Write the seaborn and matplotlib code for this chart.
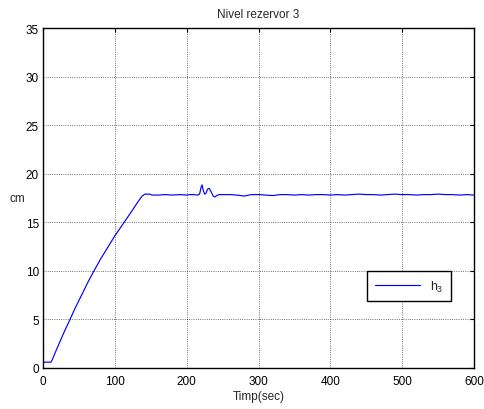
import numpy as np
import pandas as pd
import matplotlib
matplotlib.use("Agg")
import matplotlib.pyplot as plt
import seaborn as sns

# ---- data ----
time_s = [0, 11, 12, 20, 30, 37, 45, 55, 63, 71, 80, 90, 100, 113, 125, 133, 138,
          142, 148, 152, 160, 170, 180, 190, 200, 205, 210, 215, 218, 220, 221.5,
          223, 225, 227, 229, 231, 233, 235, 237, 239, 242, 245, 250, 260, 270,
          280, 290, 300, 310, 320, 330, 340, 350, 360, 370, 380, 390, 400, 410,
          420, 430, 440, 450, 460, 470, 480, 490, 500, 510, 520, 530, 540, 550,
          560, 570, 580, 590, 600]
h3_cm = [0.6, 0.6, 0.7, 2.1, 3.8, 4.9, 6.2, 7.7, 8.9, 10.0, 11.2, 12.4, 13.6, 15.0,
         16.3, 17.2, 17.7, 17.9, 17.9, 17.8, 17.8, 17.85, 17.8, 17.85, 17.8, 17.85,
         17.85, 17.8, 17.9, 18.6, 18.85, 18.3, 17.9, 18.0, 18.4, 18.5, 18.3, 18.0,
         17.7, 17.6, 17.75, 17.85, 17.85, 17.85, 17.8, 17.7, 17.85, 17.85, 17.8,
         17.75, 17.85, 17.85, 17.8, 17.85, 17.8, 17.85, 17.85, 17.8, 17.85, 17.8,
         17.85, 17.9, 17.85, 17.85, 17.8, 17.85, 17.9, 17.85, 17.85, 17.8, 17.85,
         17.85, 17.9, 17.85, 17.85, 17.8, 17.85, 17.8]
x_ticks = [0, 100, 200, 300, 400, 500, 600]
y_ticks = [0, 5, 10, 15, 20, 25, 30, 35]
title = "Nivel rezervor 3"
x_label = "Timp(sec)"
y_label = "cm"
legend_label = "$h_3$"

df = pd.DataFrame({"t": time_s, "h": h3_cm})

sns.set_style("white")
plt.rcParams["font.family"] = ["Liberation Sans", "DejaVu Sans"]
plt.rcParams["mathtext.fontset"] = "custom"
plt.rcParams["mathtext.rm"] = "Liberation Sans"
plt.rcParams["mathtext.it"] = "Liberation Sans"

fig = plt.figure(figsize=(4.85, 4.10), dpi=100)
ax = fig.add_axes([43 / 485, 41 / 410, 431 / 485, 340 / 410])

sns.lineplot(data=df, x="t", y="h", ax=ax, color="blue", linewidth=0.85,
             label=legend_label)

ax.set_xlim(0, 600)
ax.set_ylim(0, 35)
ax.set_xticks(x_ticks)
ax.set_yticks(y_ticks)
ax.set_xticklabels([str(v) for v in x_ticks])
ax.set_yticklabels([str(v) for v in y_ticks])
ax.tick_params(direction="in", length=3, width=0.8, top=True, right=True,
               labelsize=8.5, colors="black")
ax.tick_params(axis="x", pad=5)
ax.tick_params(axis="y", pad=3)
ax.grid(True, color="black", linestyle=":", linewidth=0.6, alpha=0.75)
for s in ax.spines.values():
    s.set_color("black")
    s.set_linewidth(1.0)

ax.set_title(title, fontsize=8.5, pad=8)
ax.set_xlabel(x_label, fontsize=8.5, labelpad=2)
ax.set_ylabel(y_label, fontsize=8.5, rotation=0, labelpad=6, va="center")

leg = ax.legend(loc="upper left", bbox_to_anchor=(0.752, 0.285), borderaxespad=0,
                fancybox=False, edgecolor="black", fontsize=9, handlelength=3.6,
                framealpha=1, borderpad=0.6)
leg.get_frame().set_linewidth(1.0)

fig.savefig("out.png", dpi=100, facecolor="white")
